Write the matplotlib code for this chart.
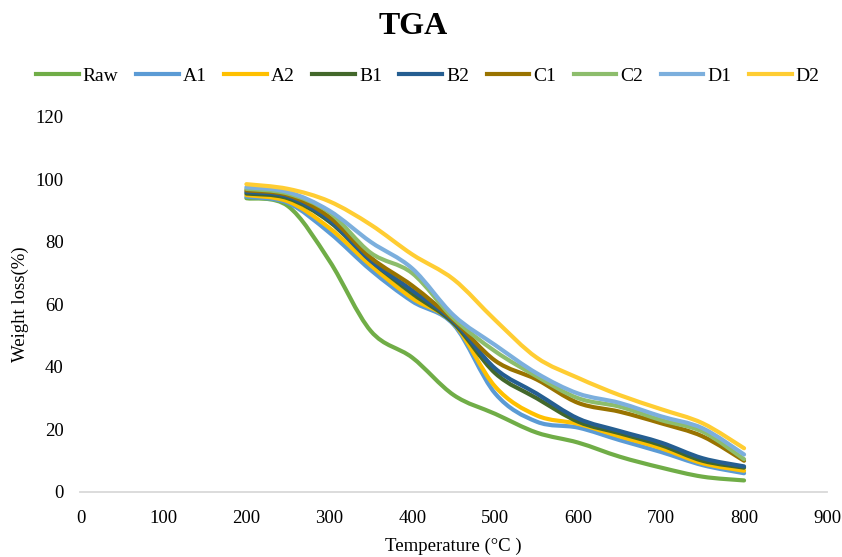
import numpy as np
import matplotlib
matplotlib.use("Agg")
import matplotlib.pyplot as plt
from matplotlib.path import Path
from matplotlib.patches import PathPatch
from matplotlib.lines import Line2D

plt.rcParams['font.family'] = ['Liberation Serif', 'DejaVu Serif']

# temperature (°C) and weight (%)
temp = [200, 250, 300, 350, 400, 450, 500, 550, 600, 650, 700, 750, 800]

raw = [94.0, 91.5, 74.0, 51.5, 43.0, 31.0, 25.0, 19.0, 15.8, 11.3, 7.8, 4.9, 3.7]
a1 = [94.5, 92.5, 83.0, 71.0, 61.0, 53.5, 31.5, 22.5, 20.6, 16.6, 12.8, 8.6, 6.0]
a2 = [95.0, 93.0, 84.5, 72.5, 62.0, 54.0, 33.7, 24.5, 21.8, 17.8, 14.0, 9.2, 6.8]
b1 = [95.5, 94.0, 86.5, 74.0, 63.5, 54.0, 38.0, 30.0, 22.5, 18.8, 15.0, 10.0, 7.8]
b2 = [96.0, 94.5, 87.0, 74.0, 64.5, 54.5, 39.5, 31.5, 23.5, 19.5, 15.8, 10.8, 8.2]
c1 = [96.5, 95.0, 88.0, 75.0, 66.0, 55.0, 42.0, 36.0, 28.5, 25.7, 22.0, 17.8, 10.0]
c2 = [97.0, 95.5, 89.5, 76.5, 70.0, 55.5, 45.0, 37.0, 30.0, 27.3, 23.0, 19.3, 10.5]
d1 = [97.5, 96.0, 90.0, 80.0, 71.5, 56.5, 47.0, 38.0, 31.5, 28.5, 24.2, 20.4, 12.0]
d2 = [98.5, 97.0, 93.0, 85.5, 76.0, 68.0, 55.0, 43.0, 36.5, 31.0, 26.5, 22.0, 14.0]

names = ['Raw', 'A1', 'A2', 'B1', 'B2', 'C1', 'C2', 'D1', 'D2']
series = [raw, a1, a2, b1, b2, c1, c2, d1, d2]
colors = ['#70AD47', '#5B9BD5', '#FFC000', '#43682B', '#255E91',
          '#997300', '#8DBD6C', '#7CAFDD', '#FFCD33']


def smooth_path(x, y):
    # Excel-like smoothed line: cubic Bezier segments (Catmull-Rom tangents)
    p = np.column_stack([x, y]).astype(float)
    verts = [p[0]]
    codes = [Path.MOVETO]
    n = len(p)
    for i in range(n - 1):
        p0 = p[i - 1] if i > 0 else p[i]
        p3 = p[i + 2] if i + 2 < n else p[i + 1]
        c1 = p[i] + (p[i + 1] - p0) / 6.0
        c2 = p[i + 1] - (p3 - p[i]) / 6.0
        verts += [c1, c2, p[i + 1]]
        codes += [Path.CURVE4] * 3
    return Path(verts, codes)


fig = plt.figure(figsize=(8.42, 5.57), dpi=100)
ax = fig.add_axes([0.0956, 0.1167, 0.8866, 0.6733])

handles = []
for name, vals, col in zip(names, series, colors):
    patch = PathPatch(smooth_path(temp, vals), facecolor='none', edgecolor=col,
                      lw=3.0, capstyle='round', joinstyle='round')
    ax.add_patch(patch)
    handles.append(Line2D([], [], color=col, lw=3.0, label=name))

ax.set_xlim(0, 900)
ax.set_ylim(0, 120)
ax.set_xticks(range(0, 901, 100))
ax.set_yticks(range(0, 121, 20))

for s in ['top', 'right', 'left']:
    ax.spines[s].set_visible(False)
ax.spines['bottom'].set_color('#D9D9D9')
ax.spines['bottom'].set_linewidth(1.3)
ax.tick_params(axis='both', length=0, labelsize=13.5, colors='black')
ax.tick_params(axis='x', pad=13)
ax.tick_params(axis='y', pad=12)

ax.set_xlabel('Temperature (°C )', fontsize=13.5, labelpad=8)
ax.set_ylabel('Weight loss(%)', fontsize=13.5, labelpad=5)

fig.text(0.491, 0.952, 'TGA', ha='center', va='center', fontsize=23,
         fontweight='bold')

fig.legend(handles=handles, loc='center', bbox_to_anchor=(0.508, 0.864),
           ncol=9, frameon=False, fontsize=14, handlelength=2.2,
           handletextpad=0.2, columnspacing=0.9)

fig.savefig('out.png', dpi=100)
